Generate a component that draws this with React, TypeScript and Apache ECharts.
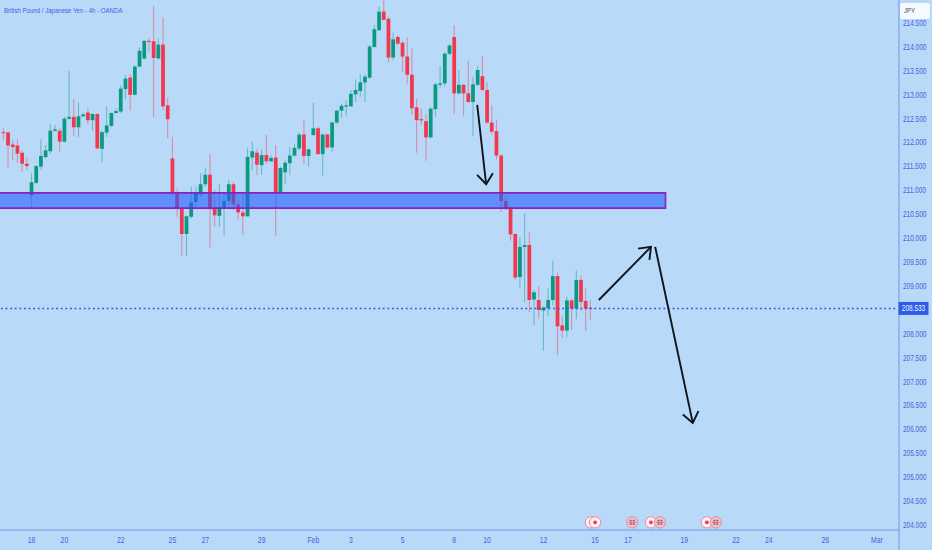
import React, { useEffect, useRef } from "react";
import * as echarts from "echarts";

const title = "British Pound / Japanese Yen - 4h - OANDA";
const currency = "JPY";
const lastPrice = 208.533;
const yTicks = [204, 204.5, 205, 205.5, 206, 206.5, 207, 207.5, 208, 208.5, 209, 209.5, 210, 210.5, 211, 211.5, 212, 212.5, 213, 213.5, 214, 214.5];
const slotCount = 191;
const dateTicks: [number, string][] = [[6, "18"], [13, "20"], [25, "22"], [36, "25"], [43, "27"], [55, "29"], [66, "Feb"], [74, "3"], [85, "5"], [96, "8"], [103, "10"], [115, "12"], [126, "15"], [133, "17"], [145, "19"], [156, "22"], [163, "24"], [175, "26"], [186, "Mar"]];

// [open, close, low, high]
const candles: number[][] = [
  [212.22,212.20,212.05,212.30],[212.21,211.94,211.47,212.23],[211.96,211.91,211.63,212.05],[211.94,211.77,211.58,212.07],
  [211.79,211.56,211.39,211.84],[211.56,211.51,211.43,211.70],[210.90,211.17,210.62,211.36],[211.16,211.51,211.13,211.53],
  [211.50,211.72,211.43,212.07],[211.70,211.84,211.67,211.95],[211.82,212.25,211.77,212.39],[212.25,212.28,212.23,212.37],
  [212.25,212.02,211.81,212.30],[212.02,212.50,212.00,212.54],[212.50,212.54,212.48,213.50],[212.54,212.32,212.14,212.91],
  [212.32,212.55,212.11,212.84],[212.55,212.59,212.54,212.62],[212.63,212.47,212.39,212.71],[212.47,212.60,212.26,212.61],
  [212.60,211.88,211.86,212.61],[211.87,212.22,211.59,212.25],[212.21,212.36,212.12,212.76],[212.35,212.62,212.32,212.63],
  [212.62,212.66,212.61,212.71],[212.65,213.13,212.62,213.20],[213.12,213.34,212.91,213.41],[213.36,213.00,212.67,213.43],
  [213.00,213.59,212.99,213.62],[213.59,213.92,213.57,213.99],[213.76,214.13,213.74,214.14],[214.13,214.12,213.90,214.18],
  [214.12,213.77,212.53,214.86],[213.76,214.05,213.74,214.18],[214.05,212.76,212.68,214.62],[212.78,212.49,212.09,212.94],
  [211.67,210.94,210.90,212.12],[210.94,210.61,210.45,211.04],[210.62,210.09,209.63,210.64],[210.09,210.46,209.63,210.48],
  [210.45,210.75,210.41,211.08],[210.76,210.94,210.62,211.08],[210.92,211.13,210.87,211.36],[211.13,211.33,211.08,211.47],
  [211.33,210.61,209.80,211.76],[210.62,210.48,210.24,211.01],[210.47,210.62,210.24,211.13],[210.62,210.78,210.06,210.94],
  [210.78,211.13,210.69,211.22],[211.13,210.71,210.59,211.18],[210.71,210.54,210.39,210.80],[210.54,210.46,210.07,210.94],
  [210.46,211.70,210.45,211.88],[211.69,211.82,211.43,212.02],[211.79,211.54,211.33,211.86],[211.53,211.74,211.33,211.86],
  [211.74,211.61,211.56,212.16],[211.61,211.68,211.60,211.74],[211.69,210.96,210.05,211.95],[210.97,211.47,210.95,211.50],
  [211.38,211.58,211.13,211.63],[211.57,211.73,211.32,211.91],[211.73,211.89,211.70,211.98],[211.88,212.17,211.84,212.21],
  [212.17,211.72,211.55,212.47],[211.72,211.86,211.50,211.88],[212.16,212.30,212.14,212.83],[212.30,211.76,211.75,212.33],
  [211.76,212.17,211.31,212.19],[212.17,211.90,211.88,212.19],[211.90,212.42,211.81,212.44],[212.42,212.67,212.39,212.68],
  [212.67,212.77,212.51,212.82],[212.76,212.78,212.55,212.89],[212.76,213.02,212.75,213.10],[213.01,213.10,212.85,213.32],
  [213.08,213.26,212.96,213.43],[213.26,213.38,212.85,213.43],[213.36,214.01,213.34,214.04],[214.00,214.37,213.99,214.46],
  [214.35,214.74,214.34,214.85],[214.74,214.57,214.56,214.98],[214.59,213.78,213.68,214.63],[213.78,214.16,213.73,214.30],
  [214.21,214.07,214.04,214.25],[214.09,213.80,213.48,214.13],[213.80,213.42,213.22,214.20],[213.42,212.72,212.58,213.97],
  [212.74,212.47,211.79,212.92],[212.49,212.48,212.37,212.71],[212.45,212.11,211.62,212.61],[212.11,212.71,212.09,212.74],
  [212.70,213.22,212.54,213.25],[213.21,213.24,213.15,213.60],[213.24,213.86,213.18,213.89],[213.86,214.03,213.83,214.07],
  [214.21,213.03,212.60,214.46],[213.03,213.21,213.01,213.52],[213.21,213.03,212.55,213.22],[213.03,212.85,212.83,213.71],
  [212.85,213.22,212.14,213.38],[213.21,213.52,213.18,213.61],[213.39,213.10,213.08,213.81],[213.10,212.42,212.39,213.27],
  [212.42,212.23,212.16,212.78],[212.24,211.73,211.65,212.48],[211.73,210.78,210.55,211.76],[210.78,210.61,210.59,210.87],
  [210.64,210.08,209.95,210.66],[210.09,209.18,209.13,210.10],[209.19,209.82,208.97,210.02],[209.82,209.86,208.67,210.52],
  [209.86,208.71,208.46,210.13],[208.72,208.87,208.18,208.92],[208.71,208.50,208.32,209.01],[208.49,208.55,207.65,208.58],
  [208.54,208.71,208.37,208.95],[208.71,209.21,208.60,209.53],[209.21,208.16,207.56,209.28],[208.18,208.07,207.91,208.39],
  [208.07,208.70,207.93,208.78],[208.70,208.53,208.09,208.74],[208.53,209.13,208.31,209.33],[209.13,208.67,208.48,209.23],
  [208.69,208.53,208.07,208.95],[208.55,208.53,208.30,208.71],
];

// resistance zone: [end slot, upper price, lower price]
const zone = [141, 210.95, 210.63];
// arrows: [from slot, from price, to slot, to price]
const arrows = [
  [100.9, 212.79, 102.8, 211.13],
  [126.8, 208.71, 137.9, 209.82],
  [138.8, 209.82, 146.8, 206.14],
];
const eventSlots = [125.1, 126, 133.9, 137.9, 139.8, 149.8, 151.7];
const eventKinds = ["jp", "jp", "uk", "jp", "uk", "jp", "uk"];
const eventPrice = 204.06;

const BG = "#b9d9f9";
const UP = "#0b9a80";
const DOWN = "#f0394f";
const TXT = "#3f66d8";
const AXIS = "#7397e6";
const FONT = "'Liberation Sans',sans-serif";
const NARROW = 0.76;

export default function App() {
  const ref = useRef<HTMLDivElement>(null);
  useEffect(() => {
    const chart = echarts.init(ref.current!, undefined, { renderer: "svg" });
    const cats = Array.from({ length: slotCount }, (_, i) => String(i));
    chart.setOption({
      animation: false,
      backgroundColor: BG,
      grid: { left: 1, top: 0, width: 897, height: 530, outerBoundsMode: "none" },
      xAxis: [
        {
          type: "category",
          data: cats,
          axisLine: { show: false },
          axisTick: { show: false },
          splitLine: { show: false },
          axisLabel: { show: false },
        },
        { type: "value", min: -0.5, max: slotCount - 0.5, show: false },
      ],
      yAxis: {
        type: "value",
        position: "right",
        min: 203.9,
        max: 214.983,
        axisLine: { show: false },
        axisTick: { show: false },
        splitLine: { show: false },
        axisLabel: { show: false },
      },
      series: [
        {
          type: "custom",
          name: "candles",
          z: 2,
          xAxisIndex: 0,
          encode: { x: 0, y: [1, 2, 3, 4] },
          data: candles.map((c, i) => [i, ...c]),
          renderItem: (_: any, api: any) => {
            const i = api.value(0);
            const o = api.coord([i, api.value(1)]);
            const c = api.coord([i, api.value(2)]);
            const l = api.coord([i, api.value(3)]);
            const h = api.coord([i, api.value(4)]);
            const w = api.size([1, 0])[0] * 0.8;
            const col = api.value(2) >= api.value(1) ? UP : DOWN;
            const top = Math.min(o[1], c[1]);
            const ht = Math.max(Math.abs(o[1] - c[1]), 1.2);
            return {
              type: "group",
              children: [
                { type: "line", shape: { x1: o[0], y1: h[1], x2: o[0], y2: l[1] }, style: { stroke: col, lineWidth: 1, opacity: 0.5 } },
                { type: "rect", shape: { x: o[0] - w / 2, y: top, width: w, height: ht }, style: { fill: col } },
              ],
            };
          },
        },
        {
          type: "custom",
          name: "zone",
          z: 3,
          xAxisIndex: 1,
          encode: { x: 0, y: [1, 2] },
          data: [zone],
          renderItem: (p: any, api: any) => {
            const a = api.coord([api.value(0), api.value(1)]);
            const b = api.coord([api.value(0), api.value(2)]);
            return {
              type: "rect",
              shape: { x: -4, y: a[1], width: a[0] + 4, height: b[1] - a[1] },
              style: { fill: "rgba(35,94,247,0.6)", stroke: "#8a1fc2", lineWidth: 1.6 },
            };
          },
        },
        {
          type: "line",
          name: "last",
          z: 4,
          xAxisIndex: 1,
          symbol: "none",
          data: [[-0.5, lastPrice], [slotCount - 0.5, lastPrice]],
          lineStyle: { color: "#2f55e0", width: 1.5, type: [1.8, 2.8] },
        },
        {
          type: "custom",
          name: "arrows",
          z: 5,
          xAxisIndex: 1,
          encode: { x: [0, 2], y: [1, 3] },
          data: arrows,
          renderItem: (_: any, api: any) => {
            const a = api.coord([api.value(0), api.value(1)]);
            const b = api.coord([api.value(2), api.value(3)]);
            const ang = Math.atan2(b[1] - a[1], b[0] - a[0]);
            const len = 13;
            const spread = 0.66;
            const p1 = [b[0] - len * Math.cos(ang - spread), b[1] - len * Math.sin(ang - spread)];
            const p2 = [b[0] - len * Math.cos(ang + spread), b[1] - len * Math.sin(ang + spread)];
            const style = { stroke: "#10151c", lineWidth: 1.9, fill: "none" };
            return {
              type: "group",
              children: [
                { type: "line", shape: { x1: a[0], y1: a[1], x2: b[0], y2: b[1] }, style },
                { type: "polyline", shape: { points: [p1, b, p2] }, style },
              ],
            };
          },
        },
        {
          type: "custom",
          name: "events",
          z: 6,
          xAxisIndex: 1,
          encode: { x: 0, y: 1 },
          data: eventSlots.map((s, i) => [s, eventPrice, eventKinds[i] === "uk" ? 1 : 0]),
          renderItem: (_: any, api: any) => {
            const [x, y] = api.coord([api.value(0), api.value(1)]);
            const uk = api.value(2) === 1;
            const children: any[] = [
              { type: "circle", shape: { cx: x, cy: y, r: 5.6 }, style: { fill: uk ? "#f0c4cb" : "#fdf0f3", stroke: "#ee8494", lineWidth: 1 } },
            ];
            if (uk) {
              [[-2.4, -2.6], [0.6, -2.6], [-2.4, 1], [0.6, 1]].forEach(([dx, dy]) =>
                children.push({ type: "rect", shape: { x: x + dx, y: y + dy, width: 1.9, height: 1.5 }, style: { fill: "#6e5f80" } })
              );
              children.push({ type: "rect", shape: { x: x - 3.6, y: y - 0.5, width: 7.2, height: 1 }, style: { fill: "#e35a6e" } });
            } else {
              children.push({ type: "circle", shape: { cx: x, cy: y, r: 1.9 }, style: { fill: "#ef3a52" } });
            }
            return { type: "group", children };
          },
        },
        {
          type: "custom",
          name: "yLabels",
          z: 7,
          xAxisIndex: 1,
          encode: { y: 0 },
          data: yTicks.map((v) => [v]),
          renderItem: (_: any, api: any) => {
            const v = api.value(0);
            const y = api.coord([0, v])[1];
            return {
              type: "text",
              x: 903,
              y,
              scaleX: NARROW,
              style: { x: 0, y: 0, text: v.toFixed(3), fill: TXT, font: `8.5px ${FONT}`, verticalAlign: "middle" },
            };
          },
        },
        {
          type: "custom",
          name: "xLabels",
          z: 7,
          xAxisIndex: 1,
          encode: { x: 0 },
          data: dateTicks.map((d) => [d[0], d[1]]),
          dimensions: [{ name: "slot", type: "number" }, { name: "label", type: "ordinal" }],
          renderItem: (_: any, api: any) => {
            const i = api.value(0);
            const x = api.coord([i, 210])[0];
            const label = dateTicks.find((d) => d[0] === i)![1];
            return {
              type: "text",
              x,
              y: 540,
              scaleX: NARROW,
              style: { x: 0, y: 0, text: label, fill: TXT, font: `9px ${FONT}`, align: "center", verticalAlign: "middle" },
            };
          },
        },
        {
          type: "custom",
          name: "lastTag",
          z: 8,
          xAxisIndex: 1,
          encode: { x: 0, y: 1 },
          data: [[slotCount - 0.5, lastPrice]],
          renderItem: (_: any, api: any) => {
            const [x, y] = api.coord([api.value(0), api.value(1)]);
            return {
              type: "group",
              children: [
                { type: "rect", shape: { x: x + 0.5, y: y - 6.5, width: 30, height: 13 }, style: { fill: "#2d5ce8" } },
                {
                  type: "text",
                  x: x + 15.5,
                  y,
                  scaleX: NARROW,
                  style: { x: 0, y: 0, text: api.value(1).toFixed(3), fill: "#eef3ff", font: `8.5px ${FONT}`, align: "center", verticalAlign: "middle" },
                },
              ],
            };
          },
        },
      ],
      graphic: [
        { type: "line", z: 1, shape: { x1: 0, y1: 530, x2: 899, y2: 530 }, style: { stroke: AXIS, lineWidth: 1 } },
        { type: "line", z: 1, shape: { x1: 899, y1: 0, x2: 899, y2: 550 }, style: { stroke: AXIS, lineWidth: 1 } },
        { type: "rect", z: 10, shape: { x: 900, y: 3, width: 30, height: 16, r: 2 }, style: { fill: "#f6f9fe" } },
        { type: "text", z: 11, x: 904, y: 11, scaleX: NARROW, style: { x: 0, y: 0, text: currency, fill: "#444b58", font: `8px ${FONT}`, verticalAlign: "middle" } },
        { type: "text", z: 11, x: 4, y: 10.5, scaleX: NARROW, style: { x: 0, y: 0, text: title, fill: "#3f66e0", font: `8px ${FONT}`, verticalAlign: "middle" } },
      ],
    });
    return () => chart.dispose();
  }, []);
  return <div ref={ref} style={{ position: "fixed", left: 0, top: 0, width: 932, height: 550 }} />;
}
